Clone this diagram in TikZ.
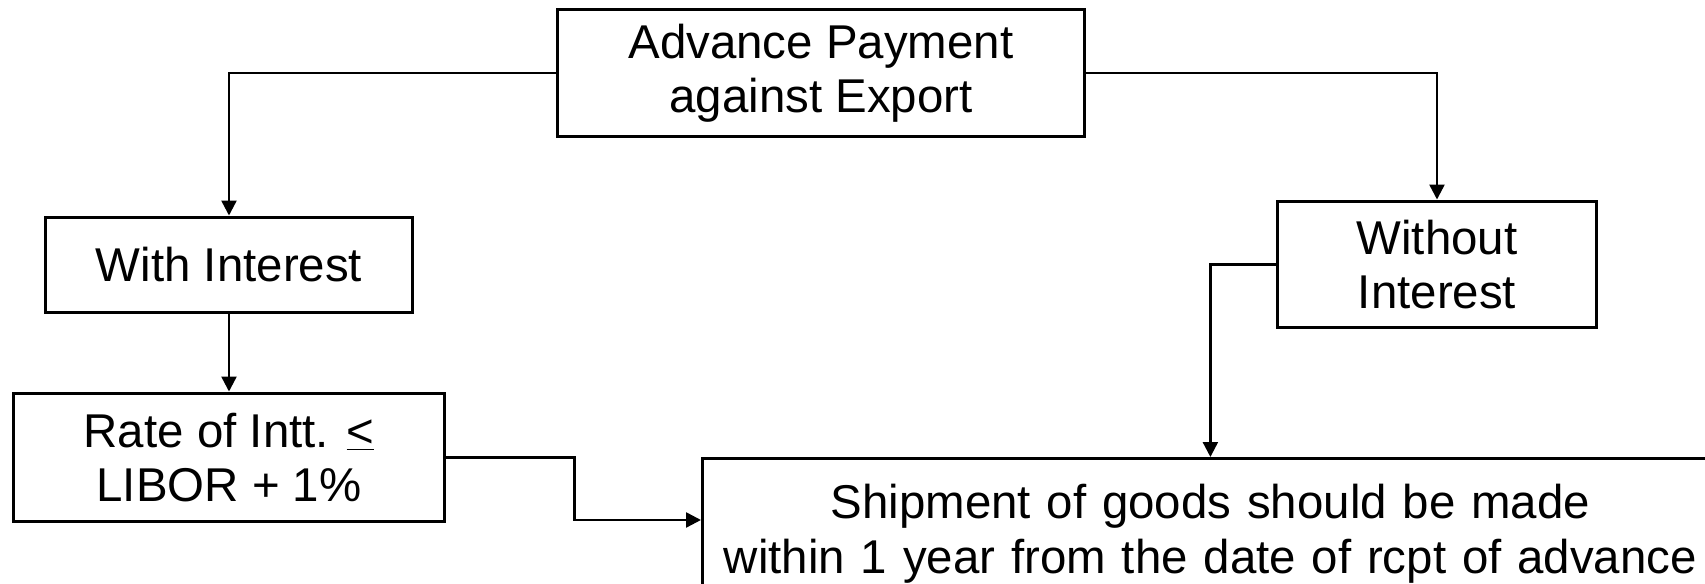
\documentclass[tikz,border=0pt]{standalone}
\usepackage{fontspec}
\setmainfont{Liberation Sans}
\usetikzlibrary{arrows.meta}
\begin{document}
\begin{tikzpicture}[x=0.02cm,y=-0.02cm,
        box/.style={rectangle,draw=black,line width=1.7pt,align=center,
            font=\fontsize{27}{31}\selectfont,inner sep=0pt},
        arr/.style={-{Triangle[length=0.3cm,width=0.3cm]},line width=1.4pt}]
    \useasboundingbox (0,0) rectangle (1705,584);
    \node[box,minimum width=10.56cm,minimum height=2.56cm] (adv) at (821,73) {Advance Payment\\against Export};
    \node[box,minimum width=7.36cm,minimum height=1.92cm] (with) at (229,265) {With Interest};
    \node[box,minimum width=6.4cm,minimum height=2.54cm] (without) at (1437,264.5) {Without\\Interest};
    \node[box,minimum width=8.64cm,minimum height=2.58cm] (rate) at (229,457.5) {Rate of Intt. \underline{<}\\LIBOR + 1\%};
    \node[box,anchor=north west,text width=20.32cm,inner ysep=0.52cm] (ship) at (701,457)
        {Shipment of goods should be made\\within 1 year from the date of rcpt of advance};

    \draw[arr] (adv.west) -| (with.north);
    \draw[arr] (adv.east) -| (without.north);
    \draw[arr] (with) -- (rate);
    \draw[arr] (rate.east) -- ++(128,0) |- ([yshift=-1.26cm]ship.north west);
    \draw[arr] (without.west) -| (ship.north);

\end{tikzpicture}
\end{document}
